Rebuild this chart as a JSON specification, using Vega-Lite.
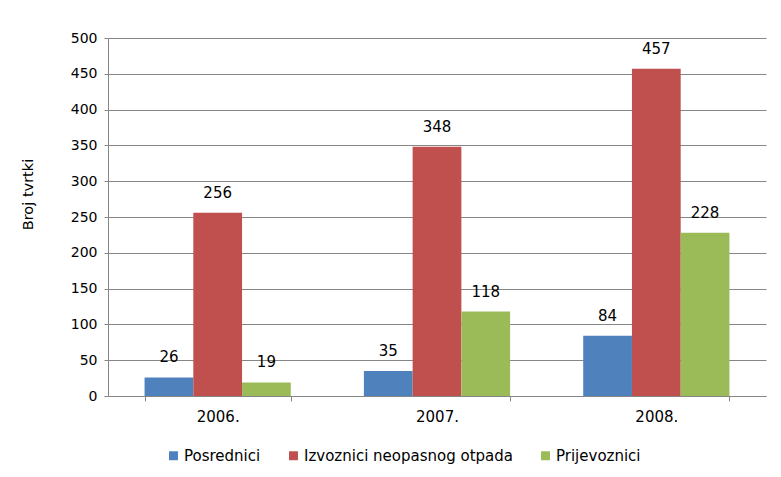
{
  "$schema": "https://vega.github.io/schema/vega-lite/v6.json",
  "width": 658,
  "height": 358,
  "autosize": {"type": "none"},
  "padding": {"left": 108, "top": 38, "right": 15, "bottom": 81},
  "background": "white",
  "config": {
    "font": "DejaVu Sans",
    "view": {"stroke": null},
    "axis": {"labelFont": "DejaVu Sans", "labelFontSize": 14, "labelColor": "#000000", "titleFont": "DejaVu Sans", "titleFontWeight": "normal", "titleColor": "#000000"}
  },
  "data": {
    "values": [
      {"year": "2006.", "series": "Posrednici", "value": 26},
      {"year": "2006.", "series": "Izvoznici neopasnog otpada", "value": 256},
      {"year": "2006.", "series": "Prijevoznici", "value": 19},
      {"year": "2007.", "series": "Posrednici", "value": 35},
      {"year": "2007.", "series": "Izvoznici neopasnog otpada", "value": 348},
      {"year": "2007.", "series": "Prijevoznici", "value": 118},
      {"year": "2008.", "series": "Posrednici", "value": 84},
      {"year": "2008.", "series": "Izvoznici neopasnog otpada", "value": 457},
      {"year": "2008.", "series": "Prijevoznici", "value": 228}
    ]
  },
  "encoding": {
    "x": {
      "field": "year", "type": "nominal", "title": null,
      "scale": {"paddingInner": 0.3333, "paddingOuter": 0.1667},
      "axis": {"labelAngle": 0, "labelPadding": 8, "labelFontSize": 15, "tickBand": "extent", "tickSize": 5, "tickColor": "#868686", "domainColor": "#868686"}
    },
    "xOffset": {"field": "series", "type": "nominal", "sort": ["Posrednici", "Izvoznici neopasnog otpada", "Prijevoznici"]},
    "y": {
      "field": "value", "type": "quantitative", "title": "Broj tvrtki",
      "scale": {"domain": [0, 500], "nice": false},
      "axis": {"values": [0, 50, 100, 150, 200, 250, 300, 350, 400, 450, 500], "gridColor": "#868686", "gridWidth": 1, "domainColor": "#868686", "tickColor": "#868686", "tickSize": 4, "labelPadding": 7, "titleFontSize": 14.5, "titleAngle": -90, "titleX": -80, "titleY": 156, "titleBaseline": "middle", "titleAlign": "center"}
    }
  },
  "layer": [
    {
      "mark": {"type": "bar"},
      "encoding": {
        "color": {
          "field": "series", "type": "nominal",
          "scale": {"domain": ["Posrednici", "Izvoznici neopasnog otpada", "Prijevoznici"], "range": ["#4F81BD", "#C0504D", "#9BBB59"]},
          "legend": {"title": null, "orient": "none", "direction": "horizontal", "legendX": 58, "legendY": 410, "symbolType": "square", "symbolSize": 80, "symbolStrokeWidth": 0, "labelFontSize": 15, "labelFont": "DejaVu Sans", "labelColor": "#000000", "labelOffset": 3, "labelLimit": 400, "columnPadding": 25}
        }
      }
    },
    {
      "mark": {"type": "text", "baseline": "bottom", "dy": -12, "fontSize": 15, "font": "DejaVu Sans", "color": "#000000"},
      "encoding": {"text": {"field": "value", "type": "quantitative"}}
    }
  ]
}
